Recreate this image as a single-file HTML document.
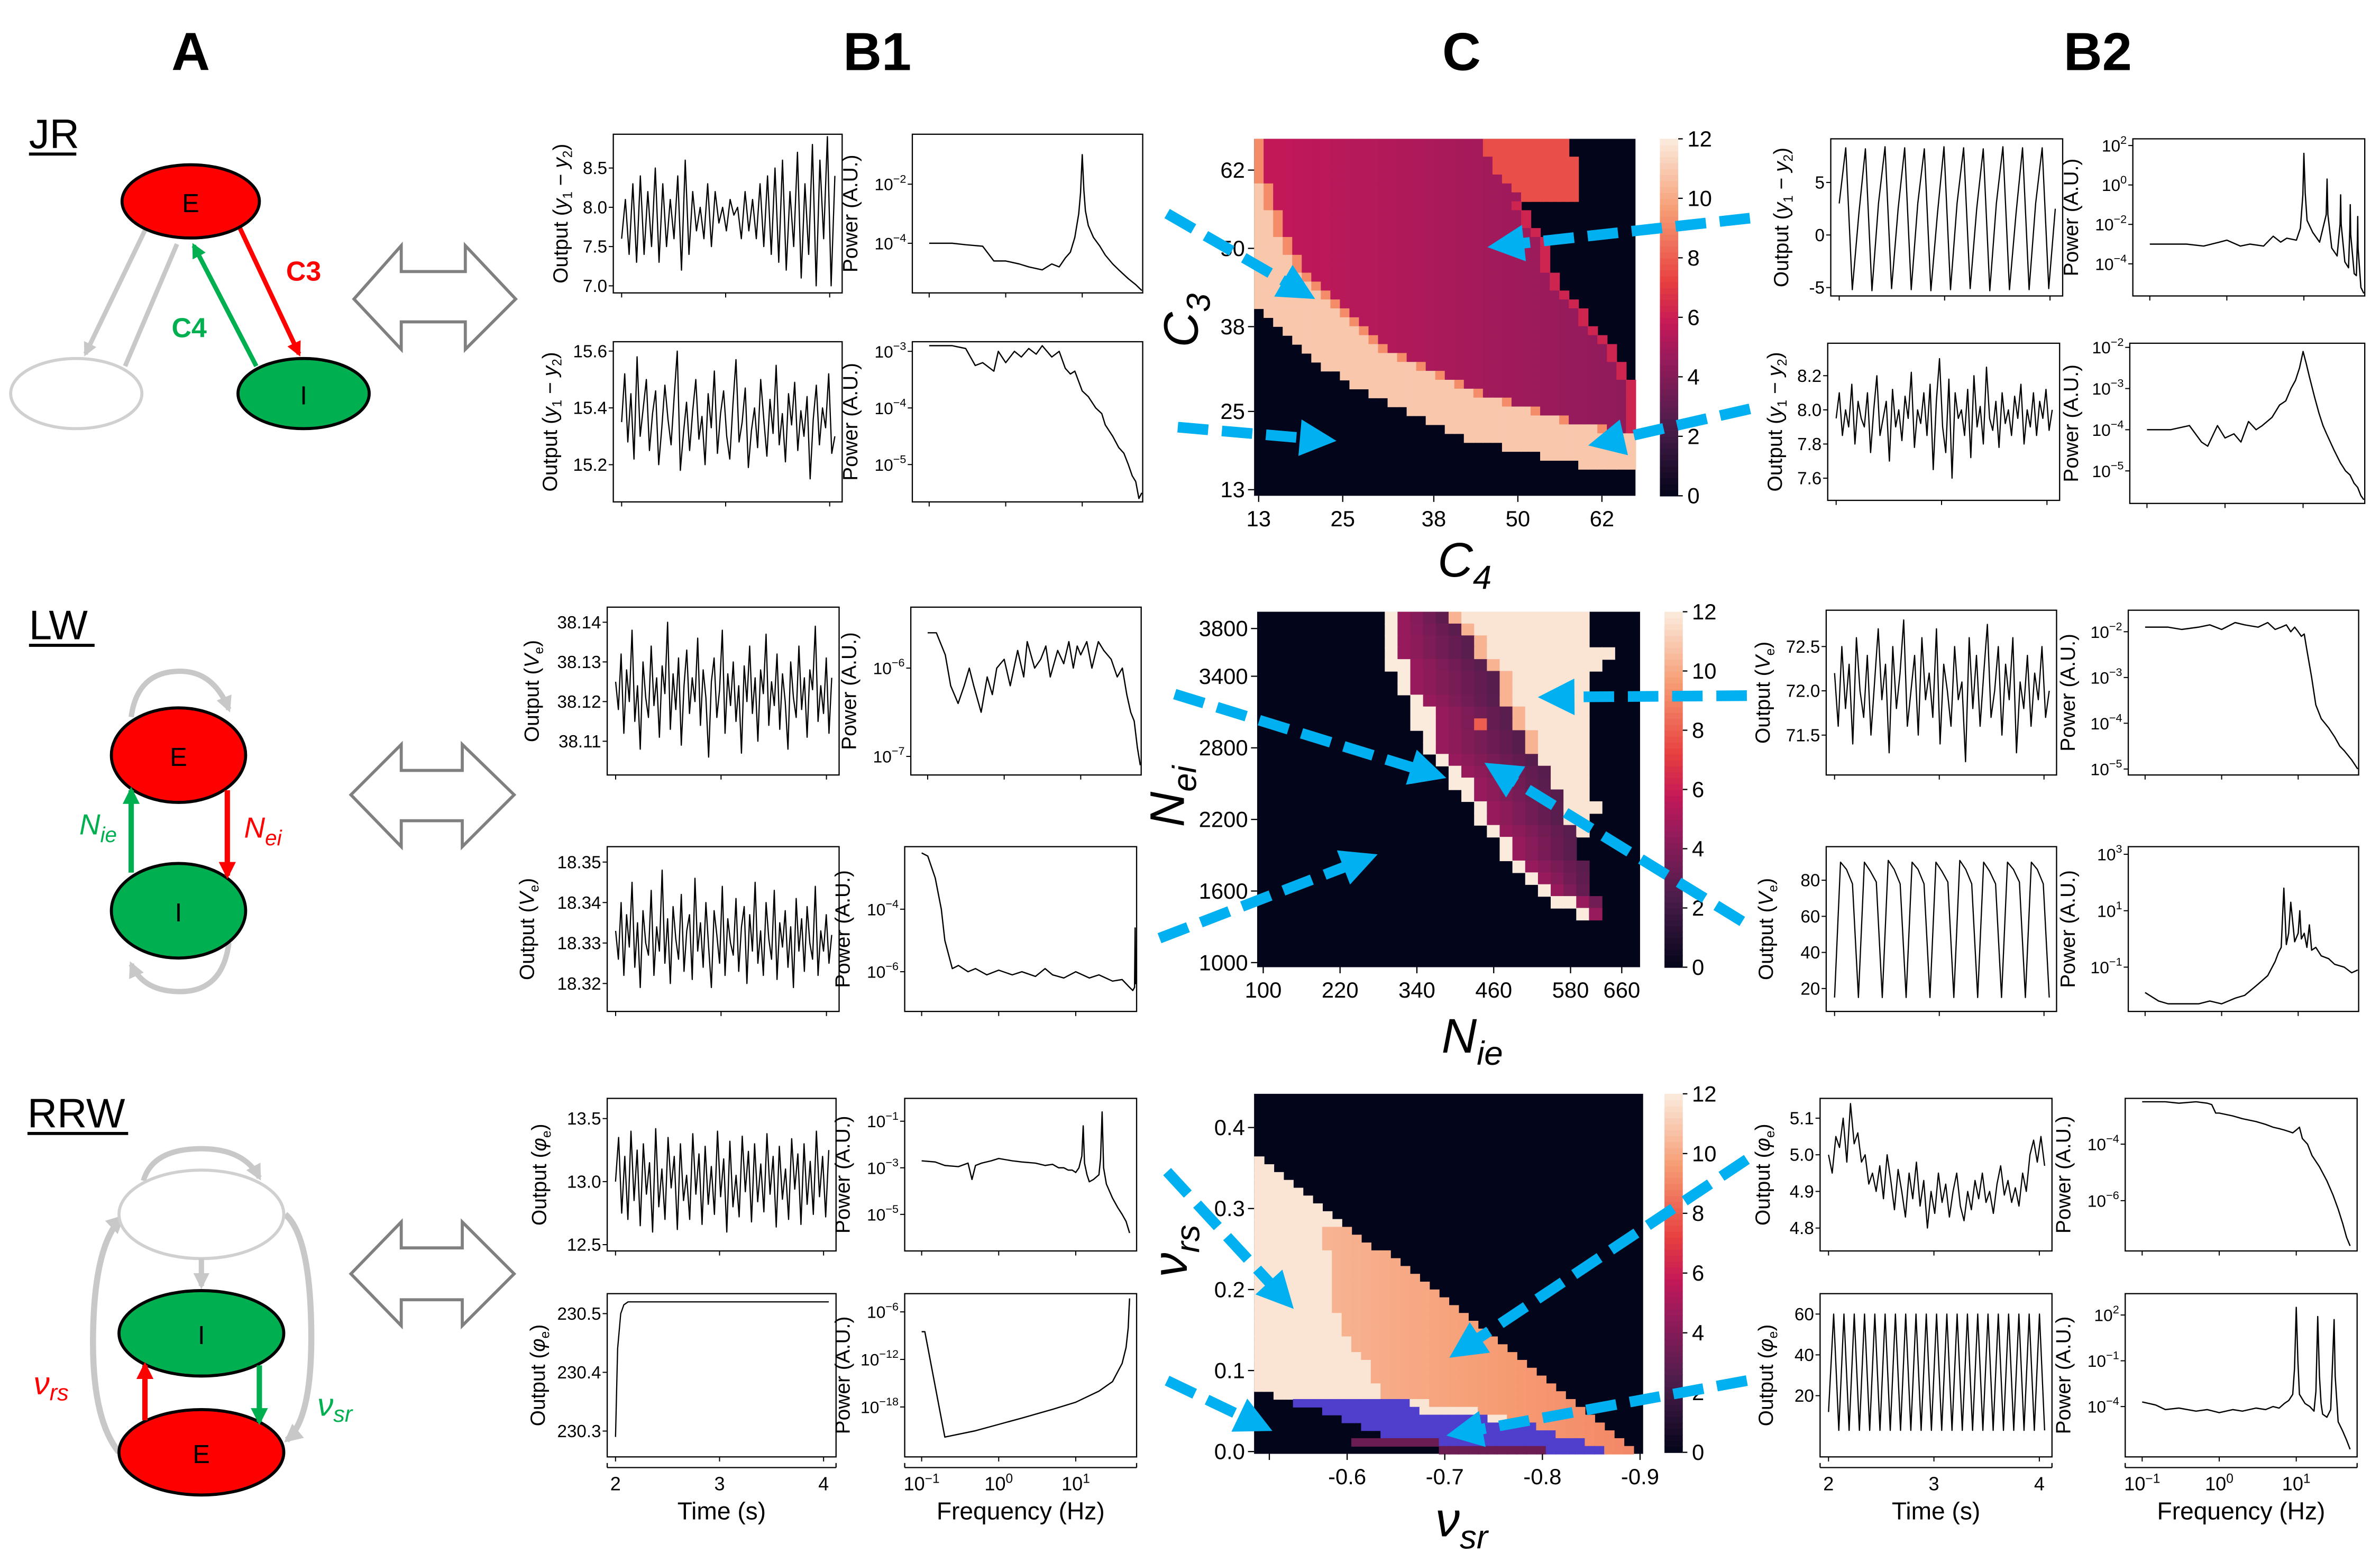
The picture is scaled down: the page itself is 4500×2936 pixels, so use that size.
<!DOCTYPE html>
<html><head><meta charset="utf-8"><title>Model comparison figure</title>
<style>
html,body{margin:0;padding:0;background:#fff;}
svg{display:block;}
text{font-family:"Liberation Sans","DejaVu Sans",sans-serif;}
</style></head>
<body>
<svg id="fig" xmlns="http://www.w3.org/2000/svg" width="4500" height="2936" viewBox="0 0 1560 1018" preserveAspectRatio="none">
<rect x="0" y="0" width="1560" height="1018" fill="#fff"/>
<defs>
<marker id="gh" viewBox="0 0 10 10" refX="8" refY="5" markerWidth="3" markerHeight="3" orient="auto"><path d="M0,0 L10,5 L0,10 z" fill="#c8c8c8"/></marker>
<marker id="rh" viewBox="0 0 10 10" refX="8" refY="5" markerWidth="3.2" markerHeight="3.2" orient="auto"><path d="M0,0 L10,5 L0,10 z" fill="#ff0000"/></marker>
<marker id="gnh" viewBox="0 0 10 10" refX="8" refY="5" markerWidth="3.2" markerHeight="3.2" orient="auto"><path d="M0,0 L10,5 L0,10 z" fill="#00b050"/></marker>
</defs>

<g font-weight="bold" font-size="35" text-anchor="middle">
<text x="125" y="46">A</text>
<text x="575" y="46">B1</text>
<text x="958" y="46">C</text>
<text x="1375" y="46">B2</text>
</g>

<g font-size="27">
<text x="19" y="97">JR</text>
<line x1="19" y1="101" x2="50" y2="101" stroke="#000" stroke-width="2"/>
<text x="19" y="419">LW</text>
<line x1="19" y1="423" x2="62" y2="423" stroke="#000" stroke-width="2"/>
<text x="18" y="739">RRW</text>
<line x1="18" y1="743" x2="84" y2="743" stroke="#000" stroke-width="2"/>
</g>

<g>
<line x1="95" y1="151" x2="56" y2="232" stroke="#c8c8c8" stroke-width="3" marker-end="url(#gh)"/>
<line x1="82" y1="240" x2="116" y2="160" stroke="#c8c8c8" stroke-width="3"/>
<ellipse cx="50" cy="258" rx="43" ry="23" fill="#fff" stroke="#d0d0d0" stroke-width="2"/>
<line x1="157" y1="149" x2="196" y2="232" stroke="#ff0000" stroke-width="3" marker-end="url(#rh)"/>
<line x1="168" y1="240" x2="127" y2="161" stroke="#00b050" stroke-width="3" marker-end="url(#gnh)"/>
<ellipse cx="125" cy="132" rx="45" ry="24" fill="#ff0000" stroke="#000" stroke-width="2"/>
<text x="125" y="139" font-size="17" text-anchor="middle">E</text>
<ellipse cx="199" cy="258" rx="43" ry="23" fill="#00b050" stroke="#000" stroke-width="2"/>
<text x="199" y="265" font-size="17" text-anchor="middle">I</text>
<text x="199" y="184" font-size="18" font-weight="bold" fill="#ff0000" text-anchor="middle">C3</text>
<text x="124" y="221" font-size="18" font-weight="bold" fill="#00b050" text-anchor="middle">C4</text>
</g>

<g>
<path d="M86,470 Q90,440 118,440 Q140,440 150,465" fill="none" stroke="#c8c8c8" stroke-width="3.5" marker-end="url(#gh)"/>
<path d="M150,618 Q146,650 118,650 Q94,650 86,632" fill="none" stroke="#c8c8c8" stroke-width="3.5" marker-end="url(#gh)"/>
<ellipse cx="117" cy="495" rx="44" ry="31" fill="#ff0000" stroke="#000" stroke-width="2"/>
<text x="117" y="502" font-size="17" text-anchor="middle">E</text>
<ellipse cx="117" cy="597" rx="44" ry="31" fill="#00b050" stroke="#000" stroke-width="2"/>
<text x="117" y="604" font-size="17" text-anchor="middle">I</text>
<line x1="86" y1="572" x2="86" y2="518" stroke="#00b050" stroke-width="3.5" marker-end="url(#gnh)"/>
<line x1="149" y1="518" x2="149" y2="574" stroke="#ff0000" stroke-width="3.5" marker-end="url(#rh)"/>
<text x="52" y="547" font-size="19" font-style="italic" font-family="Liberation Serif, serif" fill="#00b050">N<tspan font-size="14" dy="5">ie</tspan></text>
<text x="160" y="549" font-size="19" font-style="italic" font-family="Liberation Serif, serif" fill="#ff0000">N<tspan font-size="14" dy="5">ei</tspan></text>
</g>

<g>
<path d="M94,774 Q100,753 132,753 Q160,753 170,772" fill="none" stroke="#c8c8c8" stroke-width="3.5" marker-end="url(#gh)"/>
<path d="M78,952 Q60,930 61,874 Q62,815 80,798" fill="none" stroke="#c8c8c8" stroke-width="4" marker-end="url(#gh)"/>
<path d="M187,796 Q203,810 204,870 Q205,930 188,944" fill="none" stroke="#c8c8c8" stroke-width="4" marker-end="url(#gh)"/>
<ellipse cx="132" cy="796" rx="54" ry="29" fill="#fff" stroke="#d0d0d0" stroke-width="2"/>
<line x1="132" y1="825" x2="132" y2="843" stroke="#c8c8c8" stroke-width="3.5" marker-end="url(#gh)"/>
<ellipse cx="132" cy="874" rx="54" ry="28" fill="#00b050" stroke="#000" stroke-width="2"/>
<text x="132" y="881" font-size="17" text-anchor="middle">I</text>
<ellipse cx="132" cy="952" rx="54" ry="28" fill="#ff0000" stroke="#000" stroke-width="2"/>
<text x="132" y="959" font-size="17" text-anchor="middle">E</text>
<line x1="95" y1="931" x2="95" y2="895" stroke="#ff0000" stroke-width="3.5" marker-end="url(#rh)"/>
<line x1="170" y1="895" x2="170" y2="932" stroke="#00b050" stroke-width="3.5" marker-end="url(#gnh)"/>
<text x="22" y="914" font-size="21" font-style="italic" font-family="Liberation Serif, serif" fill="#ff0000">ν<tspan font-size="15" dy="4">rs</tspan></text>
<text x="208" y="928" font-size="21" font-style="italic" font-family="Liberation Serif, serif" fill="#00b050">ν<tspan font-size="15" dy="4">sr</tspan></text>
</g>

<g fill="#fff" stroke="#808080" stroke-width="2">
<polygon points="232,196 263,161 263,178 305,178 305,161 338,196 305,229 305,211 263,211 263,229"/>
<polygon points="230,521 263,488 263,505 303,505 303,488 337,521 303,555 303,538 263,538 263,555"/>
<polygon points="230,835 263,801 263,818 303,818 303,801 337,835 303,869 303,852 263,852 263,869"/>
</g>

<g id="plots"></g>
<g id="heat"></g>
<g id="arrows"></g>
</svg>

<script>
const NS = "http://www.w3.org/2000/svg";
// ---------- DATA: time series ----------
const jrB1TopVals = [7.6,8.1,7.4,8.3,7.3,8.4,7.4,8.2,7.5,8.5,7.3,8.3,7.5,8.1,7.6,8.4,7.2,8.6,7.4,8.2,7.7,8.0,7.6,8.3,7.5,8.2,7.8,8.0,7.7,8.1,7.9,8.0,7.6,8.2,7.7,8.1,7.6,8.3,7.5,8.4,7.4,8.5,7.3,8.6,7.2,8.2,7.5,8.7,7.1,8.3,7.4,8.8,7.0,8.6,7.6,8.9,7.0,8.4];
const jrB1BotVals = [15.35,15.52,15.28,15.45,15.22,15.58,15.3,15.4,15.5,15.25,15.38,15.46,15.2,15.33,15.48,15.36,15.27,15.44,15.6,15.18,15.31,15.42,15.25,15.39,15.5,15.29,15.37,15.2,15.45,15.33,15.53,15.24,15.38,15.46,15.3,15.22,15.41,15.57,15.28,15.35,15.47,15.19,15.32,15.4,15.26,15.5,15.36,15.23,15.43,15.31,15.55,15.27,15.38,15.21,15.45,15.34,15.49,15.25,15.39,15.3,15.44,15.15,15.36,15.48,15.27,15.4,15.33,15.52,15.24,15.3];
const jrB2TopVals = [3,8.3,-5.2,2,8.2,-5.3,3,8.4,-5.1,2.5,8.3,-5.2,3,8.2,-5.3,2,8.4,-5.2,3,8.3,-5.1,2.5,8.2,-5.3,3,8.4,-5.2,2,8.3,-5.2,3,8.3,-5.1,2.5];
const jrB2BotVals = [7.95,8.1,7.85,8.0,7.9,8.15,7.8,8.05,7.95,7.9,8.1,7.75,8.0,8.2,7.85,7.95,8.05,7.7,8.12,7.9,8.0,7.82,8.08,7.95,8.22,7.78,8.0,7.92,8.1,7.85,8.15,7.65,8.05,8.3,7.9,7.75,8.18,7.6,8.1,7.95,8.0,7.85,8.12,7.72,8.2,7.9,8.02,7.8,8.25,7.95,7.88,8.05,7.78,8.1,7.92,8.0,7.85,8.08,7.95,8.15,7.8,8.0,7.9,8.1,7.85,8.05,7.95,8.12,7.88,8.0];
const lwB1TopVals = [38.125,38.118,38.132,38.112,38.128,38.12,38.138,38.115,38.124,38.108,38.13,38.121,38.116,38.134,38.119,38.126,38.111,38.129,38.122,38.14,38.113,38.127,38.118,38.131,38.109,38.124,38.133,38.117,38.126,38.12,38.136,38.114,38.128,38.121,38.106,38.125,38.131,38.116,38.123,38.138,38.112,38.127,38.119,38.13,38.115,38.124,38.107,38.129,38.12,38.134,38.117,38.126,38.11,38.128,38.122,38.137,38.114,38.125,38.119,38.132,38.113,38.127,38.12,38.108,38.13,38.121,38.116,38.134,38.118,38.126,38.111,38.128,38.123,38.139,38.115,38.124,38.117,38.131,38.112,38.126];
const lwB1BotVals = [18.333,18.326,18.34,18.322,18.337,18.329,18.345,18.324,18.335,18.319,18.338,18.33,18.327,18.343,18.322,18.334,18.328,18.348,18.325,18.336,18.32,18.339,18.331,18.326,18.342,18.323,18.333,18.337,18.321,18.346,18.328,18.335,18.324,18.34,18.329,18.319,18.338,18.332,18.325,18.344,18.322,18.336,18.33,18.327,18.341,18.323,18.334,18.339,18.32,18.337,18.328,18.345,18.325,18.333,18.322,18.34,18.331,18.326,18.343,18.321,18.335,18.329,18.338,18.324,18.334,18.319,18.341,18.328,18.336,18.323,18.339,18.33,18.326,18.344,18.322,18.333,18.328,18.337,18.325,18.332];
const lwB2TopVals = [72.2,71.6,72.5,71.8,72.3,71.4,72.6,72.0,71.7,72.4,71.5,72.1,72.7,71.9,72.3,71.3,72.5,71.8,72.2,72.8,71.6,72.0,72.4,71.5,72.6,71.9,72.2,71.7,72.7,71.4,72.3,72.0,71.6,72.5,71.9,72.1,71.2,72.6,71.8,72.4,71.6,72.2,72.75,71.7,72.0,72.5,71.5,72.3,71.9,72.6,71.3,72.1,71.8,72.4,71.6,72.2,71.9,72.5,71.7,72.0];
const lwB2BotVals = [15,90,86,78,15,90,85,79,15,91,86,78,15,90,86,78,15,90,85,79,15,91,86,78,15,90,85,78,15,90,86,79,15,90,86,78,15];
const rrwB1TopVals = [13.0,13.35,12.75,13.2,12.7,13.4,12.85,13.25,12.65,13.3,12.9,13.15,12.6,13.42,12.8,13.1,12.7,13.35,12.95,13.2,12.62,13.3,12.85,13.05,12.7,13.38,12.9,13.22,12.66,13.28,12.82,13.12,12.74,13.4,12.88,13.18,12.6,13.32,12.8,13.05,12.72,13.36,12.92,13.24,12.68,13.3,12.84,13.14,12.76,13.38,12.9,13.2,12.64,13.28,12.86,13.1,12.7,13.34,12.94,13.22,12.66,13.3,12.82,13.16,12.74,13.4,12.88,13.2,12.72,13.25];
const rrwB1BotTimes = [2.0,2.02,2.05,2.08,2.12,2.2,4.05];
const rrwB1BotVals = [230.29,230.44,230.5,230.515,230.52,230.52,230.52];
const rrwB2TopVals = [5.0,4.95,5.05,5.02,5.1,4.98,5.14,5.03,5.06,4.98,5.0,4.92,4.95,4.9,4.97,4.88,5.0,4.93,4.85,4.96,4.9,4.83,4.95,4.88,4.98,4.86,4.93,4.8,4.9,4.84,4.95,4.87,4.92,4.83,4.9,4.95,4.86,4.82,4.9,4.85,4.93,4.88,4.95,4.87,4.9,4.84,4.92,4.97,4.89,4.93,4.87,4.91,4.86,4.95,4.9,5.0,5.04,4.98,5.05,4.97];
const rrwB2BotVals = [12,60,3,60,3,60,3,60,3,60,3,60,3,60,3,60,3,60,3,60,3,60,3,60,3,60,3,60,3,60,3,60,3,60,3,60,3,60,3,60,3,60,3];
// ---------- DATA: spectra (freq Hz, log10 power) ----------
const jrB1TopF = [0.1,0.2,0.3,0.5,0.7,1,1.5,2,3,4,5,6,7,8,9,9.5,10,10.5,11,12,14,17,20,25,30,40,50,60];
const jrB1TopP = [-4,-4,-4.05,-4.1,-4.6,-4.6,-4.7,-4.8,-4.9,-4.7,-4.8,-4.5,-4.3,-3.8,-3.0,-2.3,-1.0,-2.2,-2.9,-3.4,-3.8,-4.1,-4.4,-4.7,-4.9,-5.2,-5.4,-5.6];
const jrB1BotF = [0.1,0.2,0.3,0.4,0.5,0.7,0.8,1,1.3,1.6,2,2.5,3,4,5,6,7,8,10,12,15,18,20,25,30,35,40,45,50,55,60];
const jrB1BotP = [-2.9,-2.9,-2.95,-3.25,-3.2,-3.35,-3.0,-3.2,-3.0,-3.1,-2.95,-3.05,-2.9,-3.1,-3.0,-3.3,-3.4,-3.35,-3.7,-3.8,-4.0,-4.1,-4.3,-4.5,-4.7,-4.8,-5.0,-5.2,-5.3,-5.6,-5.5];
const jrB2TopF = [0.1,0.3,0.5,0.8,1,1.5,2,3,4,5,6,8,9,9.7,10,10.4,11,13,16,19.5,20,20.5,23,27,29.5,30,30.5,34,38,39.5,40,40.5,45,48,49.5,50,50.5,55,60];
const jrB2TopP = [-3,-3,-3.1,-2.9,-2.8,-3.1,-3,-3.1,-2.6,-2.9,-2.7,-2.8,-2.2,-0.5,1.6,-0.4,-1.8,-2.4,-2.9,-1.5,0.3,-1.5,-3.2,-3.6,-2,-0.5,-2,-3.9,-4.2,-2.2,-1,-2.5,-4.5,-4.6,-2.8,-1.6,-3.2,-5.2,-5.5];
const jrB2BotF = [0.1,0.2,0.35,0.5,0.6,0.8,1,1.3,1.6,2,2.5,3,4,5,6,7,8,9,10,11,12,14,16,18,20,25,30,35,40,45,50,55,60];
const jrB2BotP = [-4,-4.0,-3.9,-4.3,-4.4,-3.9,-4.2,-4.1,-4.3,-3.8,-4.0,-3.9,-3.7,-3.4,-3.3,-3.0,-2.8,-2.5,-2.1,-2.4,-2.7,-3.2,-3.6,-3.9,-4.1,-4.5,-4.8,-5.0,-5.1,-5.3,-5.4,-5.6,-5.7];
const lwB1TopF = [0.1,0.13,0.17,0.2,0.25,0.3,0.35,0.4,0.5,0.6,0.7,0.8,1,1.2,1.5,1.8,2,2.5,3,3.5,4,5,6,7,8,9,10,12,14,17,20,25,30,35,40,45,50,55,60];
const lwB1TopP = [-5.6,-5.6,-5.85,-6.2,-6.4,-6.2,-6.0,-6.2,-6.5,-6.1,-6.3,-6.0,-5.9,-6.2,-5.8,-6.1,-5.7,-6.0,-5.9,-5.75,-6.1,-5.8,-5.95,-5.7,-6.0,-5.75,-5.85,-5.7,-6.0,-5.7,-5.8,-5.9,-6.1,-6.0,-6.3,-6.5,-6.6,-6.9,-7.1];
const lwB1BotF = [0.1,0.12,0.15,0.18,0.2,0.25,0.3,0.4,0.5,0.7,1,1.5,2,3,4,5,7,10,15,20,30,40,50,55,58,59,60];
const lwB1BotP = [-2.2,-2.3,-3,-4,-5,-5.9,-5.8,-6.0,-5.9,-6.1,-5.95,-6.1,-6.0,-6.15,-5.9,-6.1,-6.2,-6.0,-6.2,-6.1,-6.3,-6.25,-6.5,-6.6,-6.5,-4.6,-6.4];
const lwB2TopF = [0.1,0.2,0.3,0.5,0.7,1,1.5,2,3,4,5,6,7,8,9,10,11,12,13,15,17,20,25,30,35,40,50,60];
const lwB2TopP = [-1.9,-1.9,-1.95,-1.9,-1.85,-1.95,-1.8,-1.85,-1.9,-1.8,-1.95,-1.9,-1.85,-2.0,-1.9,-2.0,-2.1,-2.05,-2.4,-3.0,-3.6,-3.9,-4.1,-4.3,-4.5,-4.6,-4.8,-5.0];
const lwB2BotF = [0.1,0.15,0.2,0.3,0.5,0.7,1,1.5,2,3,4,5,5.5,6,6.5,7,7.5,8,9,10,10.5,11,12,13,14,15,17,20,25,30,40,50,60];
const lwB2BotP = [-1.9,-2.2,-2.3,-2.3,-2.3,-2.2,-2.3,-2.1,-2.0,-1.6,-1.3,-0.8,-0.5,-0.3,1.8,-0.2,0.2,1.3,-0.1,0.2,1.0,0,0.2,-0.3,0.5,-0.4,-0.3,-0.6,-0.7,-0.9,-1.0,-1.2,-1.1];
const rrwB1TopF = [0.1,0.15,0.2,0.3,0.4,0.45,0.5,0.6,0.8,1,1.5,2,3,4,5,6,7,8,9,10,11,12,12.5,13,14,15,17,20,21,22,23,25,30,35,40,45,50];
const rrwB1TopP = [-2.7,-2.75,-2.9,-2.95,-2.8,-3.5,-2.9,-2.8,-2.7,-2.6,-2.7,-2.75,-2.8,-2.9,-2.85,-3.0,-3.0,-3.1,-3.1,-3.2,-3.0,-2.5,-1.2,-2.8,-3.3,-3.6,-3.5,-3.3,-2.6,-0.6,-3.0,-3.7,-4.3,-4.7,-5.0,-5.3,-5.8];
const rrwB1BotF = [0.1,0.11,0.2,0.5,1,2,5,10,20,30,40,45,48,49,50];
const rrwB1BotP = [-8.5,-8.5,-21.8,-21,-20.2,-19.4,-18.3,-17.4,-16,-14.8,-12.5,-10.5,-8,-6,-4.3];
const rrwB2TopF = [0.1,0.2,0.3,0.5,0.7,0.8,0.9,1,1.5,2,3,4,5,6,7,8,9,10,11,12,14,16,20,25,30,35,40,45,50];
const rrwB2TopP = [-2.5,-2.5,-2.55,-2.5,-2.55,-2.6,-2.9,-2.9,-3.0,-3.1,-3.2,-3.3,-3.4,-3.45,-3.5,-3.55,-3.6,-3.5,-3.4,-3.8,-4.0,-4.4,-4.8,-5.3,-5.8,-6.3,-6.8,-7.3,-7.6];
const rrwB2BotF = [0.1,0.15,0.2,0.3,0.5,0.7,1,1.5,2,3,4,5,6,7,8,9,9.5,10,10.5,11,13,15,17,18,19,20,21,22,25,28,30,31,32,35,40,45,50];
const rrwB2BotP = [-3.7,-3.9,-4.2,-4.1,-4.3,-4.2,-4.4,-4.2,-4.3,-4.1,-4.2,-4.0,-4.1,-3.8,-3.6,-3.2,-1.5,2.5,-1,-3.2,-3.8,-4.0,-4.3,-3,1.9,-2,-3.8,-4.5,-4.7,-4.2,-0.3,1.7,-2,-5,-5.6,-6.2,-6.8];
// ---------- DATA: tick labels ----------
const jrB1TopTicks = [7.0,7.5,8.0,8.5];
const jrB1BotTicks = [15.2,15.4,15.6];
const jrB2TopTicks = [-5,0,5];
const jrB2BotTicks = [7.6,7.8,8.0,8.2];
const lwB1TopTicks = [38.11,38.12,38.13,38.14];
const lwB1BotTicks = [18.32,18.33,18.34,18.35];
const lwB2TopTicks = [71.5,72.0,72.5];
const lwB2BotTicks = [20,40,60,80];
const rrwB1TopTicks = [12.5,13.0,13.5];
const rrwB1BotTicks = [230.3,230.4,230.5];
const rrwB2TopTicks = [4.8,4.9,5.0,5.1];
const rrwB2BotTicks = [20,40,60];
const timeTicks = [2,3,4];
const freqTickExps = [-1,0,1];
// ---------- DATA: heatmaps ----------
const jrLeftBlack = [0,0,0,0,0,0,0,0,0,0,0,0,0,0,0,0,0,0,0,1,2,3,4,5,6,7,9,10,12,14,16,18,20,22,26,30,34,40,40,40];
const jrBandEnd = [1,1,1,1,1,2,2,2,3,3,3,4,4,5,5,6,7,8,9,10,11,12,13,14,16,18,20,22,24,27,30,33,37,40,40,40,40,40,40,40];
const jrMagEnd = [33,33,34,34,34,34,34,28,29,29,30,31,31,31,31,32,32,33,34,35,35,36,37,38,38,39,39,40,40,40,40,40,40,40,40,40,40,40,40,40];
const jrPatchRows = [0,1,2,3,4,5,6];
const jrPatchStart = [24,24,25,25,26,27,28];
const jrYTicks = [13,25,38,50,62];
const jrXTicks = [13,25,38,50,62];
const lwWhiteStart = [10,10,10,10,10,11,11,12,12,12,13,13,14,15,15,16,17,17,18,19,19,20,21,22,23,25];
const lwPurpleStart = [11,11,11,11,12,12,12,13,14,14,14,14,15,16,17,17,18,18,19,20,20,21,22,23,25,26];
const lwCreamStart = [15,16,17,17,18,19,19,19,20,20,21,21,22,23,23,24,24,24,25,25,25,26,26,26,27,27];
const lwRowEnd = [26,26,26,28,27,26,26,26,26,26,26,26,26,26,26,26,27,26,26,25,25,26,26,26,27,27];
const lwHotCell = [9,17,8];
const lwYTicks = [1000,1600,2200,2800,3400,3800];
const lwXTicks = [100,220,340,460,580,660];
const rrwEnd = [0,0,0,0,0,0,0,0,1,2,3,4,5,6,7,8,9,10,11,12,14,15,16,17,18,19,20,21,22,23,24,25,26,27,28,29,30,31,32,33,34,35,36,37,38,39];
const rrwStart = [0,0,0,0,0,0,0,0,0,0,0,0,0,0,0,0,0,0,0,0,0,0,0,0,0,0,0,0,0,0,0,0,0,0,0,0,0,0,2,4,7,9,11,13,10,19];
const rrwCreamEnd = [40,40,40,40,40,40,40,40,40,40,40,40,40,40,40,40,40,7,7,7,8,8,8,8,8,8,8,8,9,9,9,10,10,11,12,12,12,13,13,18,23,26,0,0,0,0];
const rrwBlueStart = [-1,-1,-1,-1,-1,-1,-1,-1,-1,-1,-1,-1,-1,-1,-1,-1,-1,-1,-1,-1,-1,-1,-1,-1,-1,-1,-1,-1,-1,-1,-1,-1,-1,-1,-1,-1,-1,-1,-1,4,7,9,11,13,19,30];
const rrwBlueEnd = [-1,-1,-1,-1,-1,-1,-1,-1,-1,-1,-1,-1,-1,-1,-1,-1,-1,-1,-1,-1,-1,-1,-1,-1,-1,-1,-1,-1,-1,-1,-1,-1,-1,-1,-1,-1,-1,-1,-1,16,17,24,29,31,34,36];
const rrwPurpleStart = [10,19];
const rrwPurpleEnd = [19,30];
const rrwPurpleRows = [44,45];
const rrwYTicks = [0.0,0.1,0.2,0.3,0.4];
const rrwXTicks = [-0.6,-0.7,-0.8,-0.9];
const cbarTicks = [0,2,4,6,8,10,12];

// ---------- helpers ----------
function mk(tag, attrs, parent) {
  const e = document.createElementNS(NS, tag);
  for (const k in attrs) e.setAttribute(k, attrs[k]);
  if (parent) parent.appendChild(e);
  return e;
}
const rocketStops = [[0,[3,5,26]],[0.2,[76,29,75]],[0.38,[150,27,92]],[0.48,[195,24,88]],[0.6,[232,63,63]],[0.8,[246,156,115]],[1,[250,235,221]]];
function rocket(v) {
  let t = Math.max(0, Math.min(1, v / 12));
  for (let i = 1; i < rocketStops.length; i++) {
    const [t1, c1] = rocketStops[i], [t0, c0] = rocketStops[i-1];
    if (t <= t1) { const u = (t - t0) / (t1 - t0); return 'rgb(' + c0.map((c, j) => Math.round(c + (c1[j] - c) * u)).join(',') + ')'; }
  }
  return 'rgb(250,235,221)';
}
const plots = document.getElementById('plots');
const heat = document.getElementById('heat');
const arrows = document.getElementById('arrows');

function fmt(v, d) { return v.toFixed(d); }

function timePanel(name, x0, y0, x1, y1, ymin, ymax, vals, times, ticks, dec, ylabel, labelX, showX, tx) {
  const g = mk('g', {}, plots);
  
  
  const sy = v => y1 - (v - ymin) / (ymax - ymin) * (y1 - y0);
  const sx = t => x0 + (t - tx[0]) / (tx[1] - tx[0]) * (x1 - x0);
  const n = vals.length;
  let d = '';
  for (let i = 0; i < n; i++) {
    const t = times ? times[i] : 2 + i * 2.05 / (n - 1);
    d += (i ? 'L' : 'M') + sx(t).toFixed(2) + ',' + sy(vals[i]).toFixed(2);
  }
  const p = mk('path', {d: d, fill: 'none', stroke: '#000', 'stroke-width': 0.8, 'stroke-linejoin': 'round'}, g);
  
  
  const fr = mk('rect', {x: x0, y: y0, width: x1 - x0, height: y1 - y0, fill: 'none', stroke: '#000', 'stroke-width': 0.8}, g);
  
  
  ticks.forEach(v => {
    const y = sy(v);
    mk('line', {x1: x0 - 3, x2: x0, y1: y, y2: y, stroke: '#000', 'stroke-width': 0.7}, g);
    const t = mk('text', {x: x0 - 4, y: y + 4, 'font-size': 11.5, 'text-anchor': 'end'}, g);
    
    
    t.textContent = fmt(v, dec);
  });
  timeTicks.forEach(tt => {
    mk('line', {x1: sx(tt), x2: sx(tt), y1: y1, y2: y1 + 3, stroke: '#000', 'stroke-width': 0.7}, g);
  });
  const ly = (y0 + y1) / 2;
  const lab = mk('text', {x: labelX, y: ly, 'font-size': 13.5, 'text-anchor': 'middle', transform: 'rotate(-90 ' + labelX + ' ' + ly + ')'}, g);
  
  
  lab.innerHTML = ylabel;
  if (showX) {
    const ay = 962;
    mk('line', {x1: x0, x2: x1, y1: ay, y2: ay, stroke: '#000', 'stroke-width': 0.8}, g);
    mk('line', {x1: x0, x2: x0, y1: ay - 3, y2: ay, stroke: '#000', 'stroke-width': 0.8}, g);
    mk('line', {x1: x1, x2: x1, y1: ay - 3, y2: ay, stroke: '#000', 'stroke-width': 0.8}, g);
    timeTicks.forEach(tt => {
      const tl = mk('text', {x: sx(tt), y: ay + 15, 'font-size': 12.5, 'text-anchor': 'middle'}, g);
      
      
      tl.textContent = tt;
    });
    const xl = mk('text', {x: (x0 + x1) / 2, y: 996, 'font-size': 16, 'text-anchor': 'middle'}, g);
    
    
    xl.textContent = 'Time (s)';
  }
}
function specPanel(name, x0, y0, x1, y1, lmin, lmax, fs, ps, exps, labelX, showX) {
  const g = mk('g', {}, plots);
  
  
  const sy = v => y1 - (v - lmin) / (lmax - lmin) * (y1 - y0);
  const fmin = -1.22, fmax = 1.79;
  const sx = f => x0 + (Math.log10(f) - fmin) / (fmax - fmin) * (x1 - x0);
  let d = '';
  for (let i = 0; i < fs.length; i++) d += (i ? 'L' : 'M') + sx(fs[i]).toFixed(2) + ',' + Math.min(y1, Math.max(y0, sy(ps[i]))).toFixed(2);
  const p = mk('path', {d: d, fill: 'none', stroke: '#000', 'stroke-width': 0.85, 'stroke-linejoin': 'round'}, g);
  
  
  const fr = mk('rect', {x: x0, y: y0, width: x1 - x0, height: y1 - y0, fill: 'none', stroke: '#000', 'stroke-width': 0.8}, g);
  
  
  exps.forEach(e => {
    const y = sy(e);
    mk('line', {x1: x0 - 3, x2: x0, y1: y, y2: y, stroke: '#000', 'stroke-width': 0.7}, g);
    const t = mk('text', {x: x0 - 4, y: y + 4, 'font-size': 11, 'text-anchor': 'end'}, g);
    
    
    t.innerHTML = '10<tspan font-size="7.5" dy="-5">' + (e < 0 ? '−' + (-e) : e) + '</tspan>';
  });
  freqTickExps.forEach(e => {
    const x = sx(Math.pow(10, e));
    mk('line', {x1: x, x2: x, y1: y1, y2: y1 + 3, stroke: '#000', 'stroke-width': 0.7}, g);
  });
  const ly = (y0 + y1) / 2;
  const lab = mk('text', {x: labelX, y: ly, 'font-size': 13.5, 'text-anchor': 'middle', transform: 'rotate(-90 ' + labelX + ' ' + ly + ')'}, g);
  
  
  lab.textContent = 'Power (A.U.)';
  if (showX) {
    const ay = 962;
    mk('line', {x1: x0, x2: x1, y1: ay, y2: ay, stroke: '#000', 'stroke-width': 0.8}, g);
    mk('line', {x1: x0, x2: x0, y1: ay - 3, y2: ay, stroke: '#000', 'stroke-width': 0.8}, g);
    mk('line', {x1: x1, x2: x1, y1: ay - 3, y2: ay, stroke: '#000', 'stroke-width': 0.8}, g);
    freqTickExps.forEach(e => {
      const tl = mk('text', {x: sx(Math.pow(10, e)), y: ay + 15, 'font-size': 12.5, 'text-anchor': 'middle'}, g);
      
      
      tl.innerHTML = '10<tspan font-size="8.5" dy="-5">' + (e < 0 ? '−' + (-e) : e) + '</tspan>';
    });
    const xl = mk('text', {x: (x0 + x1) / 2, y: 996, 'font-size': 16, 'text-anchor': 'middle'}, g);
    
    
    xl.textContent = 'Frequency (Hz)';
  }
}
const lblJR = 'Output (<tspan font-style="italic">y</tspan><tspan font-size="8.5" dy="3">1</tspan><tspan dy="-3"> − </tspan><tspan font-style="italic">y</tspan><tspan font-size="8.5" dy="3">2</tspan><tspan dy="-3">)</tspan>';
const lblLW = 'Output (<tspan font-style="italic">V</tspan><tspan font-size="8.5" dy="3">e</tspan><tspan dy="-3">)</tspan>';
const lblRRW = 'Output (<tspan font-style="italic">φ</tspan><tspan font-size="8.5" dy="3">e</tspan><tspan dy="-3">)</tspan>';

timePanel('jr-b1-time-top', 402, 88, 552, 192, 6.91, 8.93, jrB1TopVals, null, jrB1TopTicks, 1, lblJR, 372, false, [1.92, 4.12]);
specPanel('jr-b1-power-top', 598, 88, 749, 192, -5.68, -0.31, jrB1TopF, jrB1TopP, [-4, -2], 562, false);
timePanel('jr-b1-time-bottom', 402, 224, 552, 329, 15.069, 15.633, jrB1BotVals, null, jrB1BotTicks, 1, lblJR, 365, false, [1.92, 4.12]);
specPanel('jr-b1-power-bottom', 598, 224, 749, 329, -5.66, -2.83, jrB1BotF, jrB1BotP, [-5, -4, -3], 562, false);
timePanel('jr-b2-time-top', 1200, 91, 1352, 194, -5.8, 9.15, jrB2TopVals, null, jrB2TopTicks, 0, lblJR, 1172, false, [1.92, 4.12]);
specPanel('jr-b2-power-top', 1398, 91, 1550, 194, -5.63, 2.34, jrB2TopF, jrB2TopP, [-4, -2, 0, 2], 1362, false);
timePanel('jr-b2-time-bottom', 1198, 225, 1350, 328, 7.47, 8.39, jrB2BotVals, null, jrB2BotTicks, 1, lblJR, 1168, false, [1.92, 4.12]);
specPanel('jr-b2-power-bottom', 1396, 225, 1550, 330, -5.79, -1.9, jrB2BotF, jrB2BotP, [-5, -4, -3, -2], 1362, false);
timePanel('lw-b1-time-top', 398, 398, 550, 508, 38.1015, 38.1438, lwB1TopVals, null, lwB1TopTicks, 2, lblLW, 353, false, [1.92, 4.12]);
specPanel('lw-b1-power-top', 597, 398, 748, 508, -7.21, -5.31, lwB1TopF, lwB1TopP, [-7, -6], 561, false);
timePanel('lw-b1-time-bottom', 398, 555, 550, 663, 18.3131, 18.3538, lwB1BotVals, null, lwB1BotTicks, 2, lblLW, 350, false, [1.92, 4.12]);
specPanel('lw-b1-power-bottom', 593, 555, 745, 663, -7.27, -2.0, lwB1BotF, lwB1BotP, [-6, -4], 557, false);
timePanel('lw-b2-time-top', 1197, 400, 1348, 508, 71.05, 72.91, lwB2TopVals, null, lwB2TopTicks, 1, lblLW, 1160, false, [1.92, 4.12]);
specPanel('lw-b2-power-top', 1395, 400, 1546, 508, -5.13, -1.53, lwB2TopF, lwB2TopP, [-5, -4, -3, -2], 1360, false);
timePanel('lw-b2-time-bottom', 1197, 555, 1348, 663, 7.3, 98.6, lwB2BotVals, null, lwB2BotTicks, 0, lblLW, 1162, false, [1.92, 4.12]);
specPanel('lw-b2-power-bottom', 1395, 555, 1546, 663, -2.57, 3.27, lwB2BotF, lwB2BotP, [-1, 1, 3], 1360, false);
timePanel('rrw-b1-time-top', 398, 720, 548, 820, 12.45, 13.66, rrwB1TopVals, null, rrwB1TopTicks, 1, lblRRW, 358, false, [1.92, 4.12]);
specPanel('rrw-b1-power-top', 593, 720, 745, 820, -6.57, -0.02, rrwB1TopF, rrwB1TopP, [-5, -3, -1], 557, false);
timePanel('rrw-b1-time-bottom', 398, 848, 548, 955, 230.256, 230.534, rrwB1BotVals, rrwB1BotTimes, rrwB1BotTicks, 1, lblRRW, 357, true, [1.92, 4.12]);
specPanel('rrw-b1-power-bottom', 593, 848, 745, 955, -24.3, -3.7, rrwB1BotF, rrwB1BotP, [-18, -12, -6], 557, true);
timePanel('rrw-b2-time-top', 1193, 720, 1345, 820, 4.7375, 5.154, rrwB2TopVals, null, rrwB2TopTicks, 1, lblRRW, 1160, false, [1.92, 4.12]);
specPanel('rrw-b2-power-top', 1393, 720, 1545, 820, -7.78, -2.38, rrwB2TopF, rrwB2TopP, [-6, -4], 1357, false);
timePanel('rrw-b2-time-bottom', 1193, 848, 1345, 955, -10, 70, rrwB2BotVals, null, rrwB2BotTicks, 0, lblRRW, 1162, true, [1.92, 4.12]);
specPanel('rrw-b2-power-bottom', 1393, 848, 1545, 955, -7.3, 3.4, rrwB2BotF, rrwB2BotP, [-4, -1, 2], 1357, true);

function cell(g, x, y, w, h, color, nm) {
  const r = mk('rect', {x: x.toFixed(2), y: y.toFixed(2), width: (w + 0.4).toFixed(2), height: (h + 0.4).toFixed(2), fill: color}, g);
  
  
}
function colorbar(name, x0, x1, y0, y1) {
  const g = mk('g', {}, heat);
  
  
  const n = 60;
  for (let i = 0; i < n; i++) {
    const v = 12 * (i + 0.5) / n;
    const h = (y1 - y0) / n;
    const r = mk('rect', {x: x0, y: (y1 - (i + 1) * h).toFixed(2), width: x1 - x0, height: (h + 0.4).toFixed(2), fill: rocket(v)}, g);
    
    
  }
  cbarTicks.forEach(v => {
    const y = y1 - v / 12 * (y1 - y0);
    mk('line', {x1: x1, x2: x1 + 3, y1: y, y2: y, stroke: '#000', 'stroke-width': 0.8}, g);
    const t = mk('text', {x: x1 + 6, y: y + 5, 'font-size': 14.5}, g);
    
    
    t.textContent = v;
  });
}
function axesTicks(g, name, ticksY, fy, ticksX, fx, xLeft, yBottom, decY, decX) {
  ticksY.forEach(v => {
    const y = fy(v);
    mk('line', {x1: xLeft - 4, x2: xLeft, y1: y, y2: y, stroke: '#000', 'stroke-width': 0.8}, g);
    const t = mk('text', {x: xLeft - 6, y: y + 5, 'font-size': 14.5, 'text-anchor': 'end'}, g);
    
    
    t.textContent = v.toFixed(decY);
  });
  ticksX.forEach(v => {
    const x = fx(v);
    mk('line', {x1: x, x2: x, y1: yBottom, y2: yBottom + 4, stroke: '#000', 'stroke-width': 0.8}, g);
    const t = mk('text', {x: x, y: yBottom + 20, 'font-size': 14.5, 'text-anchor': 'middle'}, g);
    
    
    t.textContent = v.toFixed(decX);
  });
}
(function () {
  const g = mk('g', {}, heat);
  
  
  const X0 = 822, X1 = 1072, Y0 = 91, Y1 = 325, N = 40;
  const cw = (X1 - X0) / N, ch = (Y1 - Y0) / N;
  mk('rect', {x: X0, y: Y0, width: X1 - X0, height: Y1 - Y0, fill: rocket(0)}, g);
  for (let r = 0; r < N; r++) {
    for (let c = 0; c < N; c++) {
      let v = null;
      if (c < jrLeftBlack[r]) v = null;
      else if (c < jrBandEnd[r]) v = (c === jrBandEnd[r] - 1 && jrBandEnd[r] < 40) ? 9.2 : 10.9;
      else if (c < jrMagEnd[r]) {
        v = 5.8 - 1.5 * (c / N);
        const pi = jrPatchRows.indexOf(r);
        if (pi >= 0 && c >= jrPatchStart[pi]) v = 7.6;
        if (c === jrMagEnd[r] - 1 && r > 6) v = 6.2;
      }
      if (v !== null) cell(g, X0 + c * cw, Y0 + r * ch, cw, ch, rocket(v), 'jr-heatmap-cell');
    }
  }
  const fy = v => 321 - (v - 13) / 49 * 209.5;
  const fx = v => 825 + (v - 13) * 225 / 49;
  axesTicks(g, 'jr-heatmap', jrYTicks, fy, jrXTicks, fx, X0, Y1, 0, 0);
  const yl = mk('text', {x: 785, y: 210, 'font-size': 32, 'font-style': 'italic', 'text-anchor': 'middle', transform: 'rotate(-90 785 210)'}, g);
  
  
  yl.innerHTML = 'C<tspan font-size="22" dy="8">3</tspan>';
  const xl = mk('text', {x: 960, y: 378, 'font-size': 32, 'font-style': 'italic', 'text-anchor': 'middle'}, g);
  
  
  xl.innerHTML = 'C<tspan font-size="22" dy="8">4</tspan>';
})();
colorbar('jr-colorbar', 1088, 1100, 91, 325);
(function () {
  const g = mk('g', {}, heat);
  
  
  const X0 = 824, X1 = 1075, Y0 = 401, Y1 = 634, N = 30;
  const cw = (X1 - X0) / N, ch = (Y1 - Y0) / N;
  mk('rect', {x: X0, y: Y0, width: X1 - X0, height: Y1 - Y0, fill: rocket(0)}, g);
  for (let r = 0; r < lwWhiteStart.length; r++) {
    for (let c = lwWhiteStart[r]; c < lwRowEnd[r]; c++) {
      let v;
      if (c < lwPurpleStart[r]) v = 12;
      else if (c < lwCreamStart[r]) v = 4.6 - 2.2 * (c - lwPurpleStart[r]) / Math.max(1, lwCreamStart[r] - lwPurpleStart[r]);
      else v = (c === lwCreamStart[r] && r < 12) ? 10.3 : 11.8;
      if (r === lwHotCell[0] && c === lwHotCell[1]) v = lwHotCell[2];
      cell(g, X0 + c * cw, Y0 + r * ch, cw, ch, rocket(v), 'lw-heatmap-cell');
    }
  }
  const fy = v => 412 + (3800 - v) * 219 / 2800;
  const fx = v => 828 + (v - 100) * 235 / 560;
  axesTicks(g, 'lw-heatmap', lwYTicks, fy, lwXTicks, fx, X0, Y1, 0, 0);
  const yl = mk('text', {x: 776, y: 522, 'font-size': 32, 'font-style': 'italic', 'text-anchor': 'middle', transform: 'rotate(-90 776 522)'}, g);
  
  
  yl.innerHTML = 'N<tspan font-size="22" dy="8">ei</tspan>';
  const xl = mk('text', {x: 965, y: 690, 'font-size': 32, 'font-style': 'italic', 'text-anchor': 'middle'}, g);
  
  
  xl.innerHTML = 'N<tspan font-size="22" dy="8">ie</tspan>';
})();
colorbar('lw-colorbar', 1091, 1103, 401, 634);
(function () {
  const g = mk('g', {}, heat);
  
  
  const X0 = 822, X1 = 1077, Y0 = 717, Y1 = 953, NC = 40, NR = 46;
  const cw = (X1 - X0) / NC, ch = (Y1 - Y0) / NR;
  mk('rect', {x: X0, y: Y0, width: X1 - X0, height: Y1 - Y0, fill: rocket(0)}, g);
  for (let r = 0; r < NR; r++) {
    for (let c = rrwStart[r]; c < rrwEnd[r]; c++) {
      let col;
      const pi = rrwPurpleRows.indexOf(r);
      if (c >= rrwBlueStart[r] && c < rrwBlueEnd[r] && rrwBlueStart[r] >= 0) col = '#4f3fcc';
      else if (pi >= 0 && c >= rrwPurpleStart[pi] && c < rrwPurpleEnd[pi]) col = rocket(3.3);
      else if (pi >= 0 && c < rrwPurpleStart[pi]) col = rocket(9.6);
      else if (c < rrwCreamEnd[r]) col = rocket(11.8);
      else col = rocket(10.6 - 1.6 * c / NC);
      cell(g, X0 + c * cw, Y0 + r * ch, cw, ch, col, 'rrw-heatmap-cell');
    }
  }
  const fy = v => 951.5 - v * 531;
  const fx = v => 883 + (-v - 0.6) * 640;
  axesTicks(g, 'rrw-heatmap', rrwYTicks, fy, rrwXTicks, fx, X0, Y1, 1, 1);
  mk('line', {x1: 832, x2: 832, y1: Y1, y2: Y1 + 4, stroke: '#000', 'stroke-width': 0.8}, g);
  const yl = mk('text', {x: 778, y: 820, 'font-size': 32, 'font-style': 'italic', 'text-anchor': 'middle', transform: 'rotate(-90 778 820)'}, g);
  
  
  yl.innerHTML = 'ν<tspan font-size="22" dy="8">rs</tspan>';
  const xl = mk('text', {x: 958, y: 1007, 'font-size': 32, 'font-style': 'italic', 'text-anchor': 'middle'}, g);
  
  
  xl.innerHTML = 'ν<tspan font-size="22" dy="8">sr</tspan>';
})();
colorbar('rrw-colorbar', 1091, 1103, 717, 952);

function blueArrow(nm, x1, y1, x2, y2) {
  const g = mk('g', {}, arrows);
  
  
  const dx = x2 - x1, dy = y2 - y1, L = Math.hypot(dx, dy), ux = dx / L, uy = dy / L;
  const hl = 24, hw = 12;
  const bx = x2 - ux * hl, by = y2 - uy * hl;
  mk('line', {x1: x1, y1: y1, x2: bx + ux * 2, y2: by + uy * 2, stroke: '#00b0f0', 'stroke-width': 7, 'stroke-dasharray': '20 9'}, g);
  mk('polygon', {points: x2 + ',' + y2 + ' ' + (bx - uy * hw) + ',' + (by + ux * hw) + ' ' + (bx + uy * hw) + ',' + (by - ux * hw), fill: '#00b0f0'}, g);
}
blueArrow('jr-arrow-b1-top', 765, 140, 862, 196);
blueArrow('jr-arrow-b2-top', 1147, 143, 975, 162);
blueArrow('jr-arrow-b1-bottom', 772, 280, 876, 289);
blueArrow('jr-arrow-b2-bottom', 1147, 268, 1041, 292);
blueArrow('lw-arrow-b1-top', 770, 455, 948, 510);
blueArrow('lw-arrow-b2-top', 1145, 456, 1008, 457);
blueArrow('lw-arrow-b1-bottom', 760, 615, 903, 560);
blueArrow('lw-arrow-b2-bottom', 1142, 604, 973, 500);
blueArrow('rrw-arrow-b1-top', 765, 768, 848, 858);
blueArrow('rrw-arrow-b2-top', 1145, 760, 950, 890);
blueArrow('rrw-arrow-b1-bottom', 765, 905, 834, 938);
blueArrow('rrw-arrow-b2-bottom', 1145, 905, 948, 941);
</script>
</body></html>
